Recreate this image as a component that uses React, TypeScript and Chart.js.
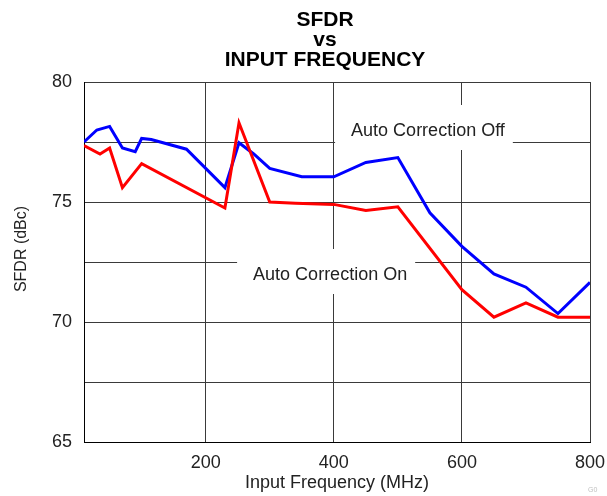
import React, { useEffect, useRef } from 'react';
import { Chart, registerables } from 'chart.js';

Chart.register(...registerables);

// ---- data ----
const freqOff = [10, 30, 50, 70, 90, 100, 115, 170, 230, 252, 275, 300, 350, 400, 450, 500, 550, 600, 650, 700, 750, 800];
const sfdrOff = [77.5, 78.0, 78.15, 77.25, 77.1, 77.65, 77.6, 77.2, 75.6, 77.47, 77.0, 76.4, 76.05, 76.05, 76.65, 76.85, 74.55, 73.15, 72.0, 71.45, 70.35, 71.65];
const freqOn = [10, 35, 50, 70, 100, 230, 252, 300, 340, 400, 450, 500, 600, 650, 700, 750, 800];
const sfdrOn = [77.35, 77.0, 77.25, 75.6, 76.6, 74.75, 78.3, 75.0, 74.95, 74.9, 74.65, 74.8, 71.35, 70.2, 70.8, 70.2, 70.2];
const xTicks = [200, 400, 600, 800];
const yTickLabels = [65, 70, 75, 80];
const titleLines = ['SFDR', 'vs', 'INPUT FREQUENCY'];
const seriesNames = ['Auto Correction Off', 'Auto Correction On'];
const xAxisTitle = 'Input Frequency (MHz)';
const yAxisTitle = 'SFDR (dBc)';
const cornerCode = 'G0';

const FONT = '"Liberation Sans", Arial, Helvetica, sans-serif';

// annotation anchors in data units
const annotations = [
  { text: seriesNames[0], x: 427, y: 77.75 },
  { text: seriesNames[1], x: 274, y: 71.75 },
];

const textPlugin = {
  id: 'textPlugin',
  beforeDatasetsDraw(chart: any) {
    const { ctx, scales } = chart;
    ctx.save();
    ctx.font = `18px ${FONT}`;
    ctx.textBaseline = 'alphabetic';
    ctx.textAlign = 'left';
    for (const a of annotations) {
      const px = scales.x.getPixelForValue(a.x);
      const py = scales.y.getPixelForValue(a.y);
      const w = ctx.measureText(a.text).width;
      ctx.fillStyle = '#ffffff';
      ctx.fillRect(px - 16, py - 31, w + 24, 45);
      ctx.fillStyle = '#222222';
      ctx.fillText(a.text, px, py);
    }
    ctx.restore();
  },
  afterDraw(chart: any) {
    const { ctx, chartArea } = chart;
    ctx.save();
    // main title
    ctx.fillStyle = '#000000';
    ctx.font = `bold 21px ${FONT}`;
    ctx.textAlign = 'center';
    ctx.textBaseline = 'alphabetic';
    const cx = (chartArea.left + chartArea.right) / 2 - 12;
    titleLines.forEach((t, i) => ctx.fillText(t, cx, 26 + i * 20));
    // y axis title
    ctx.fillStyle = '#222222';
    ctx.font = `16px ${FONT}`;
    ctx.translate(22, 249);
    ctx.rotate(-Math.PI / 2);
    ctx.textBaseline = 'middle';
    ctx.fillText(yAxisTitle, 0, 0);
    ctx.setTransform(1, 0, 0, 1, 0, 0);
    // corner code
    ctx.fillStyle = '#c0c0c0';
    ctx.font = `7px ${FONT}`;
    ctx.textAlign = 'left';
    ctx.textBaseline = 'alphabetic';
    ctx.fillText(cornerCode, chartArea.right - 2, 492);
    ctx.restore();
  },
};

export default function App() {
  const ref = useRef<HTMLCanvasElement | null>(null);

  useEffect(() => {
    if (!ref.current) return;
    const chart = new Chart(ref.current, {
      type: 'line',
      data: {
        datasets: [
          {
            label: seriesNames[0],
            data: freqOff.map((f, i) => ({ x: f, y: sfdrOff[i] })),
            borderColor: '#0000ff',
            backgroundColor: '#0000ff',
            borderWidth: 3,
            pointRadius: 0,
            tension: 0,
            order: 1,
          },
          {
            label: seriesNames[1],
            data: freqOn.map((f, i) => ({ x: f, y: sfdrOn[i] })),
            borderColor: '#ff0000',
            backgroundColor: '#ff0000',
            borderWidth: 3,
            pointRadius: 0,
            tension: 0,
            order: 0,
          },
        ],
      },
      options: {
        animation: false,
        responsive: true,
        maintainAspectRatio: false,
        layout: { padding: { top: 82, right: 17, left: 0, bottom: 0 } },
        plugins: {
          legend: { display: false },
          tooltip: { enabled: false },
          title: { display: false },
        },
        scales: {
          x: {
            type: 'linear',
            min: 10,
            max: 800,
            afterBuildTicks: (s: any) => {
              s.ticks = xTicks.map((v) => ({ value: v }));
            },
            afterFit: (s: any) => {
              s.height = 54;
              s.paddingLeft = 0;
              s.paddingRight = 0;
            },
            grid: { color: '#3a3a3a', lineWidth: 1, drawTicks: false },
            border: { color: '#000000', width: 1 },
            ticks: {
              padding: 10,
              color: '#222222',
              font: { family: FONT, size: 18 },
              maxRotation: 0,
              autoSkip: false,
            },
            title: {
              display: true,
              text: xAxisTitle,
              color: '#222222',
              font: { family: FONT, size: 18 },
              padding: { top: 0, bottom: 2 },
            },
          },
          y: {
            type: 'linear',
            min: 65,
            max: 80,
            afterFit: (s: any) => {
              s.width = 84;
              s.paddingTop = 0;
              s.paddingBottom = 0;
            },
            grid: { color: '#3a3a3a', lineWidth: 1, drawTicks: false },
            border: { color: '#000000', width: 1 },
            ticks: {
              stepSize: 2.5,
              padding: 12,
              color: '#222222',
              font: { family: FONT, size: 18 },
              callback: (v: any) => (yTickLabels.includes(Number(v)) ? String(v) : ''),
            },
          },
        },
      },
      plugins: [textPlugin],
    });
    return () => chart.destroy();
  }, []);

  return (
    <div style={{ position: 'absolute', left: 0, top: 0, width: 607, height: 496, background: '#fff' }}>
      <canvas ref={ref} />
    </div>
  );
}
